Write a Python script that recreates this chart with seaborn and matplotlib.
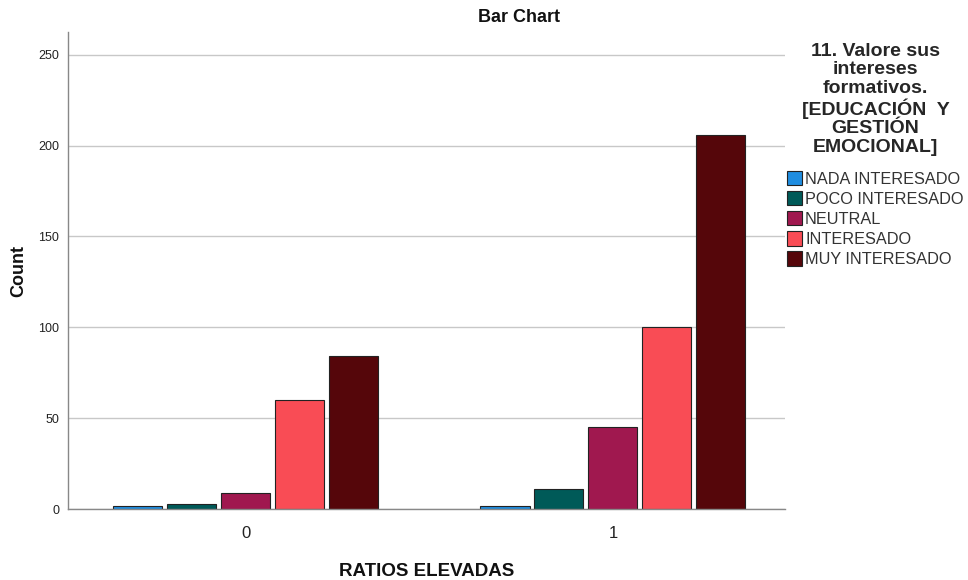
import matplotlib.pyplot as plt
import seaborn as sns
import pandas as pd

sns.set_theme(style="white")
plt.rcParams['font.family'] = ['Liberation Sans', 'DejaVu Sans']

# Datos
grupos = ['0', '1']
niveles = ['NADA INTERESADO', 'POCO INTERESADO', 'NEUTRAL', 'INTERESADO', 'MUY INTERESADO']
conteo_0 = [2, 3, 9, 60, 84]
conteo_1 = [2, 11, 45, 100, 206]
colores = ['#1f8de0', '#005a58', '#a0184f', '#f94c55', '#55060a']

filas = []
for g, valores in zip(grupos, [conteo_0, conteo_1]):
    for nivel, v in zip(niveles, valores):
        filas.append({'RATIOS ELEVADAS': g, 'Nivel': nivel, 'Count': v})
df = pd.DataFrame(filas)

fig, ax = plt.subplots(figsize=(9.68, 5.8), dpi=100)
fig.subplots_adjust(left=0.070, right=0.811, top=0.945, bottom=0.122)

sns.barplot(data=df, x='RATIOS ELEVADAS', y='Count', hue='Nivel', hue_order=niveles,
            palette=colores, width=0.735, gap=0.09, edgecolor='#222222', linewidth=0.8,
            saturation=1, ax=ax)

ax.set_xlim(-0.485, 1.469)
ax.set_ylim(0, 262.5)
ax.set_yticks([0, 50, 100, 150, 200, 250])
ax.yaxis.grid(True, color='#c8c8c8', linewidth=1)
ax.set_axisbelow(True)
for s in ['top', 'right']:
    ax.spines[s].set_visible(False)
for s in ['left', 'bottom']:
    ax.spines[s].set_color('#888888')
    ax.spines[s].set_linewidth(1)
ax.tick_params(axis='y', labelsize=9, length=0, pad=6)
ax.tick_params(axis='x', labelsize=12, length=0, pad=12)
for lbl in ax.get_yticklabels() + ax.get_xticklabels():
    lbl.set_color('#222222')

fig.suptitle('Bar Chart', x=0.536, y=0.985, fontsize=13, fontweight='bold', color='#111111')
ax.set_xlabel('RATIOS ELEVADAS', fontsize=13.5, fontweight='bold', labelpad=16, color='#111111')
ax.set_ylabel('Count', fontsize=13, fontweight='bold', labelpad=8, color='#111111')

titulo_leyenda = '11. Valore sus\nintereses\nformativos.\n[EDUCACIÓN  Y\nGESTIÓN\nEMOCIONAL]'
leg = ax.legend(title=titulo_leyenda, loc='upper left', bbox_to_anchor=(0.994, 0.99),
                frameon=False, fontsize=11.7, handlelength=0.9, handleheight=1.0,
                handletextpad=0.2, labelspacing=0.26, borderaxespad=0)
leg.get_title().set_fontweight('bold')
leg.get_title().set_fontsize(14)
leg.get_title().set_multialignment('center')
leg.get_title().set_linespacing(1.1)
leg._legend_box.align = 'center'
leg._legend_box.sep = 11
for t in leg.get_texts():
    t.set_color('#333333')

plt.savefig('out.png', dpi=100)
plt.close()
